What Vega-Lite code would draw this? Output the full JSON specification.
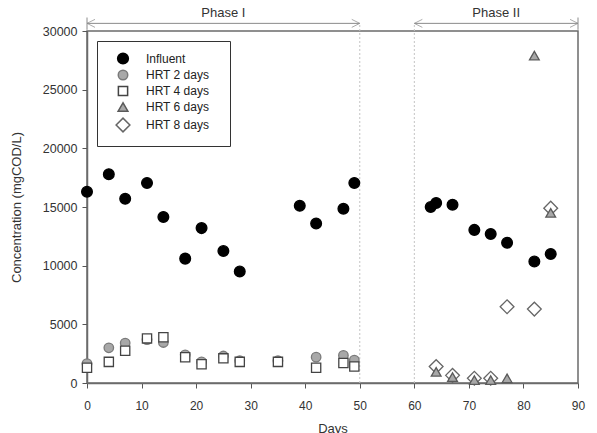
{
  "$schema": "https://vega.github.io/schema/vega-lite/v6.json",
  "width": 491,
  "height": 352,
  "autosize": {"type": "none"},
  "padding": {"left": 87, "top": 31, "right": 19, "bottom": 50},
  "background": "white",
  "config": {
    "font": "Liberation Sans",
    "view": {"stroke": "#6b6b6b", "strokeWidth": 1.5}
  },
  "datasets": {
    "pts": [
      {"day": 0, "value": 16300, "series": "Influent"},
      {"day": 4, "value": 17800, "series": "Influent"},
      {"day": 7, "value": 15700, "series": "Influent"},
      {"day": 11, "value": 17050, "series": "Influent"},
      {"day": 14, "value": 14150, "series": "Influent"},
      {"day": 18, "value": 10600, "series": "Influent"},
      {"day": 21, "value": 13200, "series": "Influent"},
      {"day": 25, "value": 11250, "series": "Influent"},
      {"day": 28, "value": 9500, "series": "Influent"},
      {"day": 39, "value": 15100, "series": "Influent"},
      {"day": 42, "value": 13600, "series": "Influent"},
      {"day": 47, "value": 14850, "series": "Influent"},
      {"day": 49, "value": 17050, "series": "Influent"},
      {"day": 63, "value": 15000, "series": "Influent"},
      {"day": 64, "value": 15350, "series": "Influent"},
      {"day": 67, "value": 15200, "series": "Influent"},
      {"day": 71, "value": 13050, "series": "Influent"},
      {"day": 74, "value": 12700, "series": "Influent"},
      {"day": 77, "value": 11950, "series": "Influent"},
      {"day": 82, "value": 10350, "series": "Influent"},
      {"day": 85, "value": 11000, "series": "Influent"},
      {"day": 0, "value": 1650, "series": "HRT 2 days"},
      {"day": 4, "value": 3000, "series": "HRT 2 days"},
      {"day": 7, "value": 3400, "series": "HRT 2 days"},
      {"day": 11, "value": 3700, "series": "HRT 2 days"},
      {"day": 14, "value": 3450, "series": "HRT 2 days"},
      {"day": 18, "value": 2400, "series": "HRT 2 days"},
      {"day": 21, "value": 1800, "series": "HRT 2 days"},
      {"day": 25, "value": 2300, "series": "HRT 2 days"},
      {"day": 28, "value": 1900, "series": "HRT 2 days"},
      {"day": 35, "value": 1900, "series": "HRT 2 days"},
      {"day": 42, "value": 2200, "series": "HRT 2 days"},
      {"day": 47, "value": 2350, "series": "HRT 2 days"},
      {"day": 49, "value": 1950, "series": "HRT 2 days"},
      {"day": 0, "value": 1300, "series": "HRT 4 days"},
      {"day": 4, "value": 1800, "series": "HRT 4 days"},
      {"day": 7, "value": 2750, "series": "HRT 4 days"},
      {"day": 11, "value": 3800, "series": "HRT 4 days"},
      {"day": 14, "value": 3900, "series": "HRT 4 days"},
      {"day": 18, "value": 2200, "series": "HRT 4 days"},
      {"day": 21, "value": 1600, "series": "HRT 4 days"},
      {"day": 25, "value": 2100, "series": "HRT 4 days"},
      {"day": 28, "value": 1800, "series": "HRT 4 days"},
      {"day": 35, "value": 1800, "series": "HRT 4 days"},
      {"day": 42, "value": 1300, "series": "HRT 4 days"},
      {"day": 47, "value": 1700, "series": "HRT 4 days"},
      {"day": 49, "value": 1400, "series": "HRT 4 days"},
      {"day": 64, "value": 1400, "series": "HRT 8 days"},
      {"day": 67, "value": 650, "series": "HRT 8 days"},
      {"day": 71, "value": 400, "series": "HRT 8 days"},
      {"day": 74, "value": 400, "series": "HRT 8 days"},
      {"day": 77, "value": 6500, "series": "HRT 8 days"},
      {"day": 82, "value": 6300, "series": "HRT 8 days"},
      {"day": 85, "value": 14900, "series": "HRT 8 days"},
      {"day": 64, "value": 950, "series": "HRT 6 days"},
      {"day": 67, "value": 500, "series": "HRT 6 days"},
      {"day": 71, "value": 250, "series": "HRT 6 days"},
      {"day": 74, "value": 250, "series": "HRT 6 days"},
      {"day": 77, "value": 400, "series": "HRT 6 days"},
      {"day": 82, "value": 27900, "series": "HRT 6 days"},
      {"day": 85, "value": 14500, "series": "HRT 6 days"}
    ],
    "dividers": [{"day": 50}, {"day": 60}],
    "phases": [
      {"label": "Phase I", "start": 0, "end": 50, "mid": 25},
      {"label": "Phase II", "start": 60, "end": 90, "mid": 75}
    ],
    "leftHeads": [{"day": 0}, {"day": 60}],
    "rightHeads": [{"day": 50}, {"day": 90}],
    "ends": [{"day": 0}, {"day": 90}]
  },
  "layer": [
    {
      "data": {"name": "dividers"},
      "mark": {"type": "rule", "stroke": "#c4c4c4", "strokeWidth": 1, "strokeDash": [2, 2]},
      "encoding": {
        "x": {"field": "day", "type": "quantitative", "scale": {"domain": [0, 90], "nice": false}},
        "y": {"datum": 0, "type": "quantitative"},
        "y2": {"datum": 30650}
      }
    },
    {
      "data": {"name": "ends"},
      "mark": {"type": "rule", "stroke": "#8a8a8a", "strokeWidth": 1},
      "encoding": {
        "x": {"field": "day", "type": "quantitative"},
        "y": {"datum": 30100, "type": "quantitative"},
        "y2": {"datum": 31150}
      }
    },
    {
      "data": {"name": "phases"},
      "mark": {"type": "rule", "stroke": "#8a8a8a", "strokeWidth": 1},
      "encoding": {
        "x": {"field": "start", "type": "quantitative"},
        "x2": {"field": "end"},
        "y": {"datum": 30650, "type": "quantitative"}
      }
    },
    {
      "data": {"name": "leftHeads"},
      "mark": {"type": "point", "shape": "M0,0L2,-1M0,0L2,1", "filled": false, "stroke": "#8a8a8a", "strokeWidth": 1, "size": 64},
      "encoding": {
        "x": {"field": "day", "type": "quantitative"},
        "y": {"datum": 30650, "type": "quantitative"}
      }
    },
    {
      "data": {"name": "rightHeads"},
      "mark": {"type": "point", "shape": "M0,0L-2,-1M0,0L-2,1", "filled": false, "stroke": "#8a8a8a", "strokeWidth": 1, "size": 64},
      "encoding": {
        "x": {"field": "day", "type": "quantitative"},
        "y": {"datum": 30650, "type": "quantitative"}
      }
    },
    {
      "data": {"name": "phases"},
      "mark": {"type": "text", "fontSize": 13, "color": "#333333", "baseline": "middle", "align": "center"},
      "encoding": {
        "x": {"field": "mid", "type": "quantitative"},
        "y": {"datum": 31550, "type": "quantitative"},
        "text": {"field": "label"}
      }
    },
    {
      "data": {"name": "pts"},
      "mark": {"type": "point", "filled": true, "strokeWidth": 1.3, "opacity": 1},
      "encoding": {
        "x": {
          "field": "day", "type": "quantitative",
          "scale": {"domain": [0, 90], "nice": false},
          "axis": {
            "title": "Days", "values": [0, 10, 20, 30, 40, 50, 60, 70, 80, 90], "format": "d",
            "labelFontSize": 12, "labelColor": "#333333", "labelFlush": false, "labelOverlap": false,
            "tickColor": "#555555", "tickSize": 5, "labelPadding": 12,
            "domainColor": "#6b6b6b", "domainWidth": 1.5, "grid": false,
            "titleFontSize": 13, "titleFontWeight": "normal", "titleColor": "#333333", "titlePadding": 11
          }
        },
        "y": {
          "field": "value", "type": "quantitative",
          "scale": {"domain": [0, 30000], "nice": false},
          "axis": {
            "title": "Concentration (mgCOD/L)", "values": [0, 5000, 10000, 15000, 20000, 25000, 30000], "format": "d",
            "labelFontSize": 12.5, "labelColor": "#333333", "labelFlush": false, "labelOverlap": false,
            "tickColor": "#555555", "tickSize": 5, "labelPadding": 5,
            "domainColor": "#6b6b6b", "domainWidth": 1.5, "grid": false,
            "titleFontSize": 13, "titleFontWeight": "normal", "titleColor": "#333333", "titlePadding": 19
          }
        },
        "shape": {
          "field": "series", "type": "nominal",
          "scale": {
            "domain": ["Influent", "HRT 2 days", "HRT 4 days", "HRT 6 days", "HRT 8 days"],
            "range": ["circle", "circle", "square", "triangle-up", "diamond"]
          },
          "legend": {
            "title": null, "orient": "none", "legendX": 10, "legendY": 10,
            "padding": 11, "strokeColor": "#333333", "fillColor": "white",
            "labelFontSize": 12, "labelColor": "#222222", "labelLimit": 400,
            "symbolOffset": 7, "labelOffset": 15, "rowPadding": 0,
            "labelExpr": "datum.label + '\u2800'"
          }
        },
        "fill": {
          "field": "series", "type": "nominal",
          "scale": {
            "domain": ["Influent", "HRT 2 days", "HRT 4 days", "HRT 6 days", "HRT 8 days"],
            "range": ["#000000", "#a8a8a8", "#ffffff", "#a8a8a8", "#ffffff"]
          }
        },
        "stroke": {
          "field": "series", "type": "nominal",
          "scale": {
            "domain": ["Influent", "HRT 2 days", "HRT 4 days", "HRT 6 days", "HRT 8 days"],
            "range": ["#000000", "#7a7a7a", "#444444", "#5a5a5a", "#666666"]
          }
        },
        "size": {
          "field": "series", "type": "nominal",
          "scale": {
            "type": "ordinal",
            "domain": ["Influent", "HRT 2 days", "HRT 4 days", "HRT 6 days", "HRT 8 days"],
            "range": [115, 90, 85, 95, 190]
          }
        }
      }
    }
  ]
}
